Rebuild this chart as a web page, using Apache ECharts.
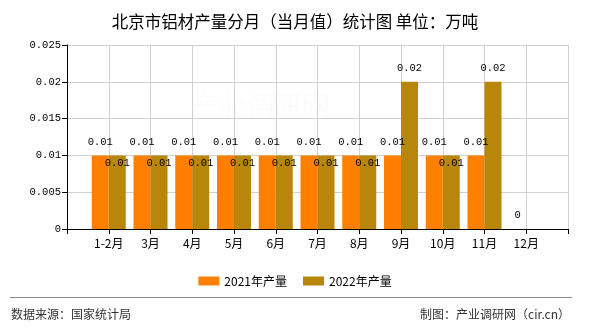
<!DOCTYPE html>
<html>
<head>
<meta charset="utf-8">
<script src="https://cdn.jsdelivr.net/npm/echarts@6/dist/echarts.min.js"></script>
<style>
  html, body { margin: 0; padding: 0; background: #fff; }
  #chart { width: 590px; height: 330px; }
</style>
</head>
<body>
<div id="chart"></div>
<script>
// Monthly aluminium output, Beijing (10k tonnes)
var categories = ['1-2月', '3月', '4月', '5月', '6月', '7月', '8月', '9月', '10月', '11月', '12月'];
var output2021 = [0.01, 0.01, 0.01, 0.01, 0.01, 0.01, 0.01, 0.01, 0.01, 0.01, 0];
var output2022 = [0.01, 0.01, 0.01, 0.01, 0.01, 0.01, 0.01, 0.02, 0.01, 0.02, null];
var yTicks = [0, 0.005, 0.01, 0.015, 0.02, 0.025];

var monoFont = '"Liberation Mono", "DejaVu Sans Mono", monospace';
var cjkFont = '"Noto Sans CJK SC", "Noto Sans", sans-serif';

// Category axis has an empty slot at each end so bars sit on interior ticks
var axisCats = [''].concat(categories, ['']);
function pad(arr) { return [null].concat(arr, [null]); }

var data2021 = pad(output2021).map(function (v) {
  return v === null ? null : { value: v };
});
var data2022 = pad(output2022).map(function (v) {
  if (v === null) return null;
  // lower labels sit just inside the bar so they clear the neighbouring label
  var lowLabel = v <= 0.01;
  return {
    value: v,
    label: lowLabel ? { position: 'insideTop', distance: 2 } : { position: 'top', distance: 8 }
  };
});

var chart = echarts.init(document.getElementById('chart'), null, { renderer: 'canvas' });
chart.setOption({
  animation: false,
  backgroundColor: '#fff',
  title: {
    text: '北京市铝材产量分月（当月值）统计图 单位：万吨',
    left: 'center',
    top: 8,
    textStyle: { fontFamily: cjkFont, fontSize: 16.5, fontWeight: 'normal', color: '#000' }
  },
  legend: {
    data: ['2021年产量', '2022年产量'],
    left: 'center',
    top: 270,
    itemWidth: 21,
    itemHeight: 9,
    itemGap: 16,
    icon: 'rect',
    textStyle: { fontFamily: cjkFont, fontSize: 12, color: '#000' }
  },
  grid: { left: 67, right: 22, top: 45, bottom: 101 },
  xAxis: {
    type: 'category',
    data: axisCats,
    boundaryGap: false,
    axisLine: { lineStyle: { color: '#000', width: 1 } },
    axisTick: { show: true, length: 5, lineStyle: { color: '#000' } },
    axisLabel: { interval: 0, margin: 8, color: '#000', fontSize: 12, fontFamily: cjkFont },
    splitLine: { show: true, lineStyle: { color: '#d0d0d0', width: 1 } }
  },
  yAxis: {
    type: 'value',
    min: yTicks[0],
    max: yTicks[yTicks.length - 1],
    interval: yTicks[1] - yTicks[0],
    axisLine: { show: true, lineStyle: { color: '#000', width: 1 } },
    axisTick: { show: true, length: 5, lineStyle: { color: '#000' } },
    axisLabel: {
      color: '#000', fontSize: 10.5, fontFamily: monoFont, margin: 6,
      formatter: function (v) { return String(parseFloat(v.toFixed(3))); }
    },
    splitLine: { show: true, lineStyle: { color: '#d0d0d0', width: 1 } }
  },
  series: [
    {
      name: '2021年产量',
      type: 'bar',
      data: data2021,
      barWidth: 17,
      barGap: '0%',
      itemStyle: { color: '#FF8000' },
      label: { show: true, position: 'top', distance: 8, color: '#000', fontSize: 10.5, fontFamily: monoFont }
    },
    {
      name: '2022年产量',
      type: 'bar',
      data: data2022,
      barWidth: 17,
      barGap: '0%',
      itemStyle: { color: '#B8860B' },
      label: { show: true, position: 'top', distance: 8, color: '#000', fontSize: 10.5, fontFamily: monoFont }
    }
  ],
  graphic: [
    {
      type: 'text',
      left: 190,
      top: 92,
      z: -1,
      silent: true,
      style: { text: '产业调研网', font: '28px ' + cjkFont, fill: 'rgba(235,205,200,0.08)' }
    },
    {
      type: 'line',
      silent: true,
      shape: { x1: 10, y1: 297.5, x2: 572, y2: 297.5 },
      style: { stroke: '#888', lineWidth: 1 }
    },
    {
      type: 'text',
      left: 11,
      top: 308,
      silent: true,
      style: { text: '数据来源：国家统计局', font: '12px ' + cjkFont, fill: '#333' }
    },
    {
      type: 'text',
      right: 20,
      top: 308,
      silent: true,
      style: { text: '制图：产业调研网（cir.cn）', font: '12px ' + cjkFont, fill: '#333' }
    }
  ]
});
</script>
</body>
</html>
